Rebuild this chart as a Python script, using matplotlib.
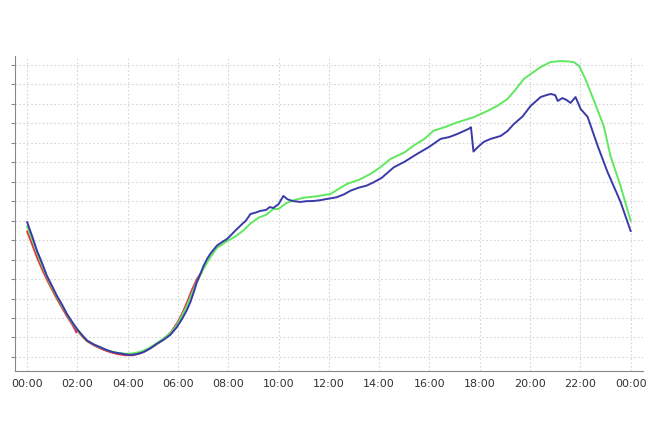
import matplotlib
matplotlib.use("Agg")
import matplotlib.pyplot as plt
import numpy as np

# x = hours since midnight, y = value in grid steps (the chart shows no y labels)
blue_h = [0.0, 0.2, 0.39, 0.6, 0.78, 1.0, 1.18, 1.4, 1.58, 1.8, 1.98, 2.2, 2.38, 2.65, 2.91,
          3.15, 3.42, 3.7, 3.97, 4.1, 4.35, 4.62, 4.9, 5.16, 5.45, 5.69, 5.95, 6.16, 6.33,
          6.49, 6.62, 6.75, 6.9, 7.02, 7.15, 7.28, 7.42, 7.55, 7.75, 7.95, 8.1, 8.28, 8.48,
          8.7, 8.88, 9.1, 9.27, 9.5, 9.65, 9.79, 10.0, 10.19, 10.35, 10.55, 10.87, 11.1, 11.38,
          11.65, 11.94, 12.3, 12.6, 12.86, 13.2, 13.5, 13.78, 14.1, 14.58, 15.0, 15.51, 16.0,
          16.44, 16.8, 17.1, 17.55, 17.65, 17.75, 17.9, 18.15, 18.43, 18.83, 19.1, 19.36,
          19.7, 20.02, 20.42, 20.65, 20.82, 21.0, 21.1, 21.29, 21.45, 21.61, 21.81, 22.01,
          22.29, 22.69, 23.08, 23.6, 24.0]
blue_v = [6.92, 6.2, 5.46, 4.8, 4.18, 3.62, 3.15, 2.66, 2.21, 1.78, 1.44, 1.1, 0.84, 0.64,
          0.5, 0.36, 0.24, 0.18, 0.12, 0.1, 0.14, 0.24, 0.44, 0.67, 0.9, 1.13, 1.52, 1.95,
          2.35, 2.81, 3.3, 3.84, 4.3, 4.69, 5.02, 5.29, 5.52, 5.72, 5.9, 6.06, 6.25, 6.49,
          6.74, 7.0, 7.34, 7.42, 7.5, 7.55, 7.7, 7.65, 7.85, 8.27, 8.1, 8.01, 7.96, 8.0, 8.01,
          8.05, 8.12, 8.2, 8.35, 8.54, 8.7, 8.8, 8.97, 9.2, 9.74, 10.02, 10.43, 10.8, 11.2,
          11.3, 11.45, 11.71, 11.8, 10.55, 10.75, 11.04, 11.2, 11.35, 11.6, 11.97, 12.35,
          12.89, 13.35, 13.45, 13.51, 13.45, 13.15, 13.3, 13.2, 13.05, 13.35, 12.74, 12.33,
          10.84, 9.5, 7.96, 6.47]

green_h = [0.0, 0.2, 0.4, 0.6, 0.8, 1.0, 1.2, 1.4, 1.6, 1.8, 2.0, 2.2, 2.4, 2.7, 3.0, 3.3,
           3.6, 3.9, 4.2, 4.5, 4.8, 5.1, 5.4, 5.7, 5.95, 6.15, 6.35, 6.55, 6.75, 7.0, 7.3,
           7.55, 7.95, 8.3, 8.6, 8.88, 9.2, 9.5, 9.79, 10.0, 10.3, 10.6, 11.0, 11.5, 12.06,
           12.72, 13.2, 13.65, 14.0, 14.45, 15.0, 15.36, 15.8, 16.16, 16.6, 17.1, 17.75,
           18.3, 18.7, 19.1, 19.4, 19.75, 20.1, 20.42, 20.82, 21.21, 21.5, 21.73, 21.95, 22.2,
           22.5, 22.93, 23.2, 23.6, 24.0]
green_v = [6.7, 6.05, 5.33, 4.68, 4.08, 3.55, 3.07, 2.6, 2.16, 1.74, 1.4, 1.08, 0.84, 0.6,
           0.44, 0.3, 0.21, 0.16, 0.18, 0.26, 0.42, 0.66, 0.92, 1.22, 1.62, 2.1, 2.62, 3.25,
           3.85, 4.5, 5.15, 5.6, 5.95, 6.2, 6.5, 6.85, 7.15, 7.3, 7.6, 7.6, 7.9, 8.05, 8.18,
           8.25, 8.37, 8.89, 9.1, 9.4, 9.7, 10.17, 10.5, 10.85, 11.2, 11.62, 11.8, 12.05,
           12.31, 12.63, 12.9, 13.25, 13.7, 14.28, 14.6, 14.89, 15.15, 15.2, 15.18, 15.15,
           14.95, 14.28, 13.3, 11.86, 10.32, 8.78, 6.99]

red_h = [0.0, 0.2, 0.4, 0.6, 0.8, 1.0, 1.2, 1.4, 1.6, 1.8, 1.9, 1.95, 2.0, 2.2, 2.4, 2.7,
         3.0, 3.3, 3.6, 3.9, 4.2, 4.5, 4.8, 5.1, 5.4, 5.7, 5.95, 6.15, 6.35, 6.55, 6.75, 6.9]
red_v = [6.45, 5.78, 5.1, 4.5, 3.95, 3.45, 2.96, 2.5, 2.06, 1.64, 1.4, 1.25, 1.38, 1.05, 0.8,
         0.56, 0.38, 0.24, 0.14, 0.08, 0.08, 0.18, 0.36, 0.62, 0.9, 1.25, 1.72, 2.2, 2.8,
         3.45, 4.0, 4.3]

orange_h = [0.0, 0.2, 0.4, 0.6, 0.8, 1.0, 1.2, 1.4, 1.6, 1.8, 2.0, 2.2, 2.4, 2.7, 3.0, 3.3,
            3.6, 3.9, 4.2, 4.5, 4.8, 5.1, 5.4, 5.7, 5.95, 6.15, 6.35, 6.55, 6.75, 6.95]
orange_v = [6.42, 5.75, 5.05, 4.45, 3.9, 3.4, 2.92, 2.48, 2.05, 1.66, 1.32, 1.02, 0.78, 0.56,
            0.4, 0.26, 0.16, 0.1, 0.12, 0.2, 0.36, 0.6, 0.86, 1.2, 1.65, 2.15, 2.7, 3.35,
            3.95, 4.35]

tick_hours = list(range(0, 25, 2))
tick_labels = ["%02d:00" % (h % 24) for h in tick_hours]

fig = plt.figure(figsize=(6.55, 4.35), dpi=100)
ax = fig.add_axes([0.023, 0.145, 0.959, 0.724])

ax.plot(orange_h, orange_v, color="#f0a030", lw=1.2)
ax.plot(red_h, red_v, color="#e0305a", lw=1.2)
ax.plot(green_h, green_v, color="#5fe85f", lw=1.4)
ax.plot(blue_h, blue_v, color="#3a3aa8", lw=1.4)

ax.set_xlim(-0.48, 24.5)
ax.set_ylim(-0.72, 15.46)
ax.set_xticks(tick_hours)
ax.set_xticklabels(tick_labels, fontsize=8, color="#333333")
ax.set_yticks(np.arange(0, 16))
ax.set_yticklabels([])

ax.grid(True, linestyle=(0, (1.5, 2)), color="#d5d5d5", lw=0.8)
for s in ["top", "right"]:
    ax.spines[s].set_visible(False)
for s in ["left", "bottom"]:
    ax.spines[s].set_color("#888888")
ax.tick_params(axis="y", length=3, color="#888888")
ax.tick_params(axis="x", length=0, pad=5)

fig.savefig("out.png", dpi=100)
